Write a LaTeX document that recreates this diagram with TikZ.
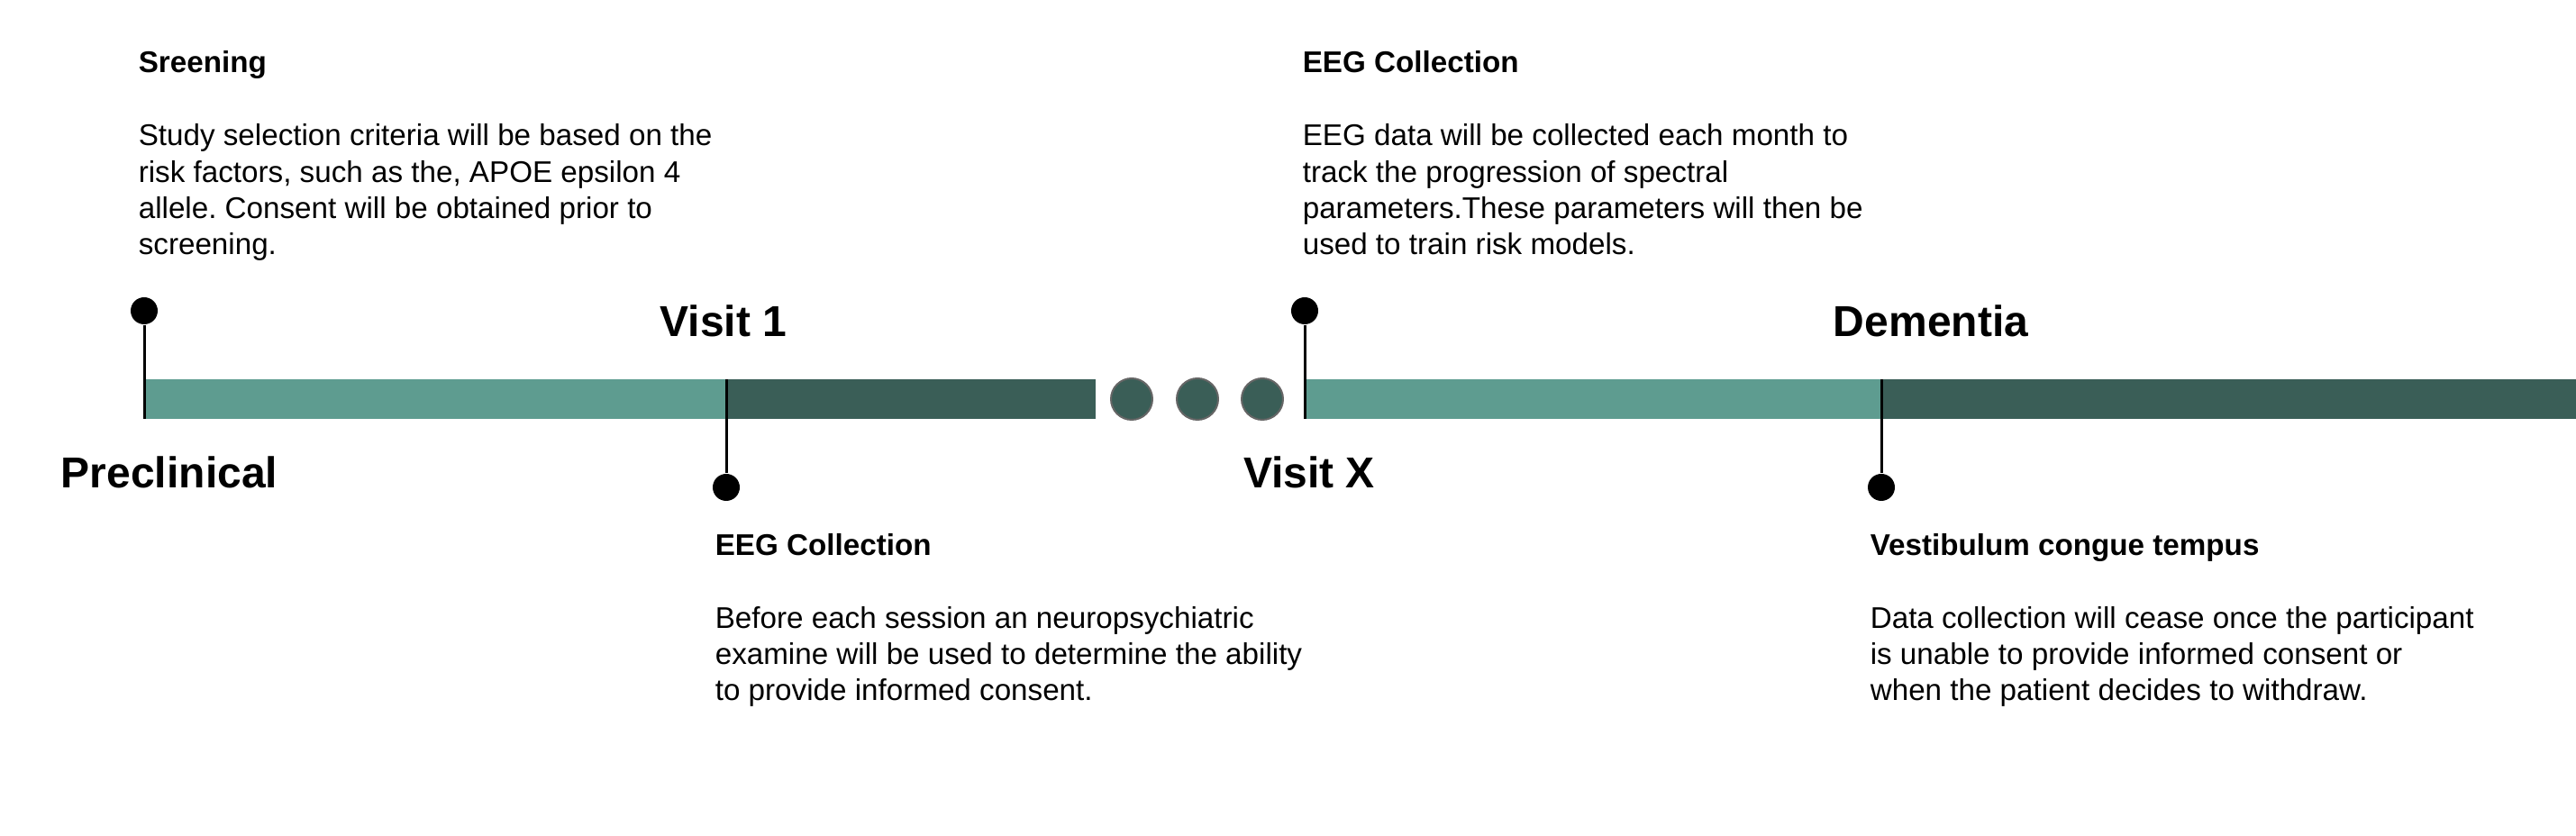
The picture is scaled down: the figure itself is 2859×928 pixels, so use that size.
\documentclass[tikz,border=0pt]{standalone}
\usepackage{fontspec}
\setmainfont{Liberation Sans}
\usetikzlibrary{positioning}
\definecolor{tealL}{HTML}{5E9C90}
\definecolor{tealD}{HTML}{3A5E57}
\definecolor{ringG}{HTML}{666666}
\frenchspacing

\begin{document}
\begin{tikzpicture}[x=0.25pt, y=-0.25pt,
   pin/.style={circle, fill=black, inner sep=0pt, minimum size=7.5pt},
   stem/.style={line width=0.75pt},
   more/.style={circle, fill=tealD, draw=ringG, line width=0.5pt, inner sep=0pt, minimum size=11.5pt},
   phase/.style={font=\bfseries\fontsize{12}{14}\selectfont, anchor=base, inner sep=0pt},
   head/.style={font=\bfseries\fontsize{8.3}{10.1}\selectfont, anchor=base west, inner sep=0pt},
   body/.style={font=\fontsize{8.3}{10.1}\selectfont, align=left, anchor=base west, inner sep=0pt},]
   \useasboundingbox (0,0) rectangle (2859,928);
   % timeline bar
   \fill[tealL] (160,421) rectangle (806,465);
   \fill[tealD] (806,421) rectangle (1216,465);
   \fill[tealL] (1448,421) rectangle (2088,465);
   \fill[tealD] (2088,421) rectangle (2859,465);
   \foreach \x [count=\i] in {1256,1329,1401}
      \node[more] (gap\i) at (\x,443) {};

   % pins
   \node[pin] (pinPre) at (160,345) {};
   \node[pin] (pinV1) at (806,541) {};
   \node[pin] (pinVX) at (1448,345) {};
   \node[pin] (pinDem) at (2088,541) {};
   \coordinate (barPre) at (160,465);
   \coordinate (barV1) at (806,421);
   \coordinate (barVX) at (1448,465);
   \coordinate (barDem) at (2088,421);
   \draw[stem] (pinPre) -- (barPre);
   \draw[stem] (pinV1) -- (barV1);
   \draw[stem] (pinVX) -- (barVX);
   \draw[stem] (pinDem) -- (barDem);

   % phase labels
   \node[phase] (lblPre) at (188,542) {Preclinical};
   \node[phase] (lblV1) at (803,374) {Visit 1};
   \node[phase] (lblVX) at (1453,542) {Visit X};
   \node[phase] (lblDem) at (2143,374) {Dementia};

   % notes (body nodes sit on their last line)
   \node[head] (scrHead) at (153,81) {Sreening};
   \node[body] (scrBody) at (153,283) {Study selection criteria will be based on the\\risk factors, such as the, APOE epsilon 4\\allele. Consent will be obtained prior to\\screening.};
   \node[head] (eegHeadA) at (1445,81) {EEG Collection};
   \node[body] (eegBodyA) at (1445,283) {EEG data will be collected each month to\\track the progression of spectral\\parameters.These parameters will then be\\used to train risk models.};
   \node[head] (eegHeadB) at (793,617) {EEG Collection};
   \node[body] (eegBodyB) at (793,778) {Before each session an neuropsychiatric\\examine will be used to determine the ability\\to provide informed consent.};
   \node[head] (vesHead) at (2075,617) {Vestibulum congue tempus};
   \node[body] (vesBody) at (2075,778) {Data collection will cease once the participant\\is unable to provide informed consent or\\when the patient decides to withdraw.};
\end{tikzpicture}
\end{document}
